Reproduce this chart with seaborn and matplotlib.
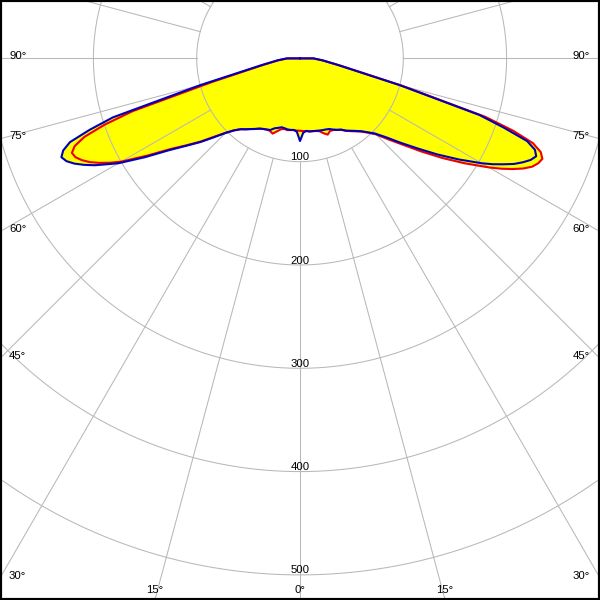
import numpy as np
import matplotlib
matplotlib.use("Agg")
import matplotlib.pyplot as plt
import seaborn as sns

# gamma angles (deg, 0 = straight down, + = right) and intensities
angles = [-95, -90, -85, -80, -75, -72.5, -71.25, -70, -68.75, -67.5, -66.25, -65,
          -63.75, -62.5, -61.25, -60, -57.5, -55, -52.5, -50, -47.5,
          -45, -42.5, -40, -37.5, -35, -32.5, -30, -27.5, -25, -22.5, -20, -17.5,
          -15, -12.5, -10, -7.5, -5, -2.5, 0, 2.5, 5, 7.5, 10, 12.5, 15, 17.5, 20,
          22.5, 25, 27.5, 30, 32.5, 35, 37.5, 40, 42.5, 45,
          47.5, 50, 52.5, 55, 57.5, 60, 61.25, 62.5, 63.75, 65, 66.25,
          67.5, 68.75, 70, 71.25, 72.5, 75, 80, 85, 90, 95]

blue_vals = [0, 13, 22, 38, 100, 190, 215, 237, 246, 250, 247, 241,
             233, 224, 213, 203, 178, 155, 139, 126, 113,
             102, 94.5, 89.5, 86.5, 83.5, 81, 78.5, 77, 76, 75, 72, 70.5,
             69, 69.2, 69.8, 69.8, 69.6, 71, 80, 72, 70.5, 71.5, 71.5, 71.8, 72.3, 72.8, 73.2,
             74, 76, 78, 79.5, 83, 85.5, 88.5, 92, 97, 103,
             113, 127, 143, 162, 182, 203, 213, 222, 231, 238, 244,
             247.5, 244, 234, 208, 182, 100, 38, 22, 13, 0]

red_vals = [0, 12, 21, 36, 88, 170, 200, 222, 234, 239, 237.5, 233,
            227, 219, 210, 200, 175, 153, 138, 125, 112,
            102, 94.5, 89.5, 86.5, 83.5, 81, 78.5, 77, 76, 76, 77.5, 74,
            71, 70, 70.5, 70, 69.5, 70, 70, 70.5, 70.5, 71, 71.5, 72, 73, 76, 78.5,
            76, 76.5, 78, 80, 83, 86, 89, 92.5, 97.5, 104,
            116, 130, 148, 168, 189, 211, 222, 232, 241, 248, 252,
            254, 250, 240, 218, 188, 102, 39, 22, 13, 0]

ring_vals = [100, 200, 300, 400, 500]
spoke_angles = list(range(0, 360, 15))
side_labels = ["90°", "75°", "60°", "45°", "30°"]
side_angles = [90, 75, 60, 45, 30]
bottom_labels = ["15°", "0°", "15°"]
bottom_angles = [-15, 0, 15]

k = 1.033  # px per unit
half_w = 300 / k
y_top = 58.4 / k
y_bot = -(600 - 58.4) / k


def to_xy(gam, val):
    g = np.radians(np.asarray(gam, dtype=float))
    v = np.asarray(val, dtype=float)
    return v * np.sin(g), -v * np.cos(g)


sns.set_style("white")
plt.rcParams["font.family"] = ["Liberation Sans", "DejaVu Sans"]

fig = plt.figure(figsize=(6, 6), dpi=100)
ax = fig.add_axes([0, 0, 1, 1])

bx, by = to_xy(angles, blue_vals)
rx, ry = to_xy(angles, red_vals)

# yellow fill for both planes
ax.fill(rx, ry, color="#ffff00", lw=0, zorder=1)
ax.fill(bx, by, color="#ffff00", lw=0, zorder=1)

# grid: rings and spokes
grid_c = "#b8b8b8"
t = np.linspace(0, 2 * np.pi, 721)
for r in ring_vals:
    ax.plot(r * np.cos(t), r * np.sin(t), color=grid_c, lw=0.75, zorder=2)
for a in spoke_angles:
    sx, sy = to_xy([a, a], [100, 900])
    ax.plot(sx, sy, color=grid_c, lw=0.75, zorder=2)

# curves
sns.lineplot(x=rx, y=ry, sort=False, estimator=None, color="#ee0000", lw=1.5, ax=ax, zorder=3)
sns.lineplot(x=bx, y=by, sort=False, estimator=None, color="#0000bb", lw=1.5, ax=ax, zorder=4)

# labels
fs = 8.2
for r in ring_vals:
    ax.text(0, -r + 1.5 / k, str(r), ha="center", va="baseline", fontsize=fs,
            color="black", zorder=5)

for lab, a in zip(side_labels, side_angles):
    yy = -half_w / np.tan(np.radians(a)) if a != 90 else 0
    yy = yy - 0.5 / k
    ax.text(-half_w + 9 / k, yy, lab, ha="left", va="baseline", fontsize=fs,
            color="black", zorder=5)
    ax.text(half_w - 10 / k, yy, lab, ha="right", va="baseline", fontsize=fs,
            color="black", zorder=5)

for lab, a in zip(bottom_labels, bottom_angles):
    xx = -y_bot * np.tan(np.radians(a))
    ax.text(xx, -(593 - 58.4) / k, lab, ha="center", va="baseline", fontsize=fs,
            color="black", zorder=5)

ax.set_xlim(-half_w, half_w)
ax.set_ylim(y_bot, y_top)
ax.set_aspect("equal")
ax.set_xticks([])
ax.set_yticks([])
ax.set_xlabel("")
ax.set_ylabel("")
for sp in ax.spines.values():
    sp.set_visible(True)
    sp.set_color("black")
    sp.set_linewidth(3)

fig.savefig("out.png", dpi=100)
